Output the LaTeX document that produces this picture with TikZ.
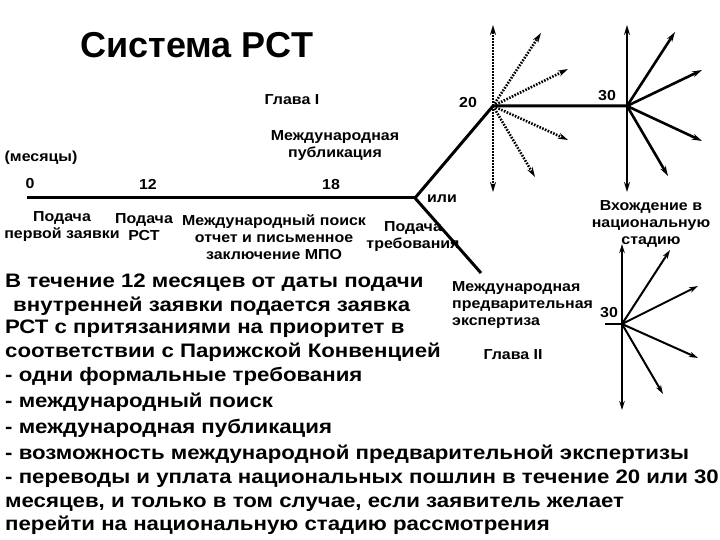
\documentclass[tikz,border=0pt]{standalone}
\usepackage{fontspec}
\setmainfont{Liberation Sans}
\newfontfamily\bodyfont[FakeStretch=1.14]{Liberation Sans}
\newfontfamily\lblfont[FakeStretch=1.1]{Liberation Sans}
\usetikzlibrary{arrows.meta}
\tikzset{
  lbl/.style={font=\lblfont\bfseries\fontsize{14.5}{17}\selectfont, inner sep=0pt, align=center},
  bodyline/.style={anchor=base west, inner sep=0pt, font=\bodyfont\bfseries\fontsize{19.5}{24}\selectfont},
  mainline/.style={line width=3pt},
  sarrow/.style={line width=2.6pt, -{Stealth[length=10pt,width=6pt]}},
  darrow/.style={sarrow, dash pattern=on 1.6pt off 1.4pt},
  tarrow/.style={line width=2pt, -{Stealth[length=9pt,width=5.5pt]}}
}
\begin{document}
\begin{tikzpicture}[x=1pt,y=-1pt]
\useasboundingbox (0,0) rectangle (720,540);
% title
\node[inner sep=0pt, anchor=base, font=\bfseries\fontsize{36}{40}\selectfont] (title) at (197,58) {Система PCT};
% coordinates
\coordinate (t0) at (27,198);
\coordinate (fork) at (415,198);
\coordinate (c20) at (493,106);
\coordinate (c30) at (627,106);
\coordinate (low) at (481,273);
\coordinate (c3) at (622,324);
\coordinate (c3w) at (605,324);
% main lines
\draw[mainline] (t0) -- (fork);
\draw[mainline, line join=round] (fork) -- (c20) -- (c30);
\draw[mainline] (fork) -- (low);
% fan 1 (dotted)
\coordinate (a1) at (493,25);
\coordinate (a2) at (541,33);
\coordinate (a3) at (568,69);
\coordinate (a4) at (568,140);
\coordinate (a5) at (535,177);
\coordinate (a6) at (493,192);
\foreach \p in {a1,a2,a3,a4,a5,a6} \draw[darrow] (c20) -- (\p);
% fan 2 (solid)
\coordinate (b1) at (627,25);
\coordinate (b2) at (675,32);
\coordinate (b3) at (702,70);
\coordinate (b4) at (702,141);
\coordinate (b5) at (668,176);
\coordinate (b6) at (627,192);
\foreach \p in {b1,b2,b3,b4,b5,b6} \draw[sarrow] (c30) -- (\p);
% fan 3
\draw[line width=2.4pt] (c3w) -- (c3);
\coordinate (d1) at (622,244);
\coordinate (d2) at (670,250);
\coordinate (d3) at (698,286);
\coordinate (d4) at (698,358);
\coordinate (d5) at (663,394);
\coordinate (d6) at (622,410);
\foreach \p in {d1,d2,d3,d4,d5,d6} \draw[tarrow] (c3) -- (\p);
% labels
\node[lbl] (glava1) at (292,100) {Глава I};
\node[lbl] (pub) at (335,146) {Международная\\публикация};
\node[lbl] (months) at (41,158) {(месяцы)};
\node[lbl] (m0) at (30,184) {0};
\node[lbl] (m12) at (148,184) {12};
\node[lbl] (m18) at (331,185) {18};
\node[lbl] (m20) at (468,103) {20};
\node[lbl] (m30) at (607,96) {30};
\node[lbl] (ili) at (442,199) {или};
\node[lbl] (first) at (62,227) {Подача\\первой заявки};
\node[lbl] (pct) at (144,227) {Подача\\РСТ};
\node[lbl] (search) at (274,237) {Международный поиск\\отчет и письменное\\заключение МПО};
\node[lbl] (demand) at (413,237) {Подача\\требования};
\node[lbl] (nat) at (651,224) {Вхождение в\\национальную\\стадию};
\node[lbl, anchor=west, align=left] (ipe) at (452,305) {Международная\\предварительная\\экспертиза};
\node[lbl] (m30b) at (609,313) {30};
\node[lbl] (glava2) at (513,355) {Глава II};
% body text
\node[bodyline] (l1) at (5,287) {В течение 12 месяцев от даты подачи};
\node[bodyline] (l2) at (13,311) {внутренней заявки подается заявка};
\node[bodyline] (l3) at (5,333) {РСТ с притязаниями на приоритет в};
\node[bodyline] (l4) at (5,357) {соответствии с Парижской Конвенцией};
\node[bodyline] (l5) at (5,381) {- одни формальные требования};
\node[bodyline] (l6) at (5,407) {- международный поиск};
\node[bodyline] (l7) at (5,433) {- международная публикация};
\node[bodyline] (l8) at (5,459) {- возможность международной предварительной экспертизы};
\node[bodyline] (l9) at (5,483) {- переводы и уплата национальных пошлин в течение 20 или 30};
\node[bodyline] (l10) at (5,507) {месяцев, и только в том случае, если заявитель желает};
\node[bodyline] (l11) at (5,530) {перейти на национальную стадию рассмотрения};
\end{tikzpicture}
\end{document}
